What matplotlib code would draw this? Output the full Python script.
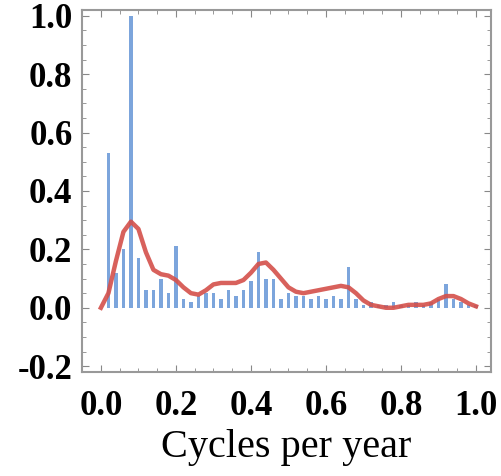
import numpy as np
import matplotlib.pyplot as plt
from matplotlib.ticker import MultipleLocator

# bar spectrum (cycles per year, power)
bar_freq = [k / 50 for k in range(1, 51)]
bar_power = [0.53, 0.12, 0.20, 1.00, 0.17, 0.06, 0.06, 0.10, 0.05, 0.21,
             0.03, 0.02, 0.04, 0.05, 0.05, 0.03, 0.06, 0.04, 0.06, 0.09,
             0.19, 0.10, 0.10, 0.03, 0.05, 0.04, 0.04, 0.03, 0.04, 0.03,
             0.04, 0.03, 0.14, 0.03, 0.01, 0.02, 0.01, 0.01, 0.02, 0.01,
             0.01, 0.02, 0.01, 0.02, 0.03, 0.08, 0.03, 0.02, 0.01, 0.01]

# smoothed spectrum (red curve)
curve_freq = [k / 50 for k in range(0, 51)]
curve_power = [0.00, 0.05, 0.16, 0.26, 0.295, 0.27, 0.19, 0.13, 0.115, 0.11,
               0.095, 0.07, 0.05, 0.045, 0.06, 0.08, 0.085, 0.085, 0.085, 0.095,
               0.12, 0.15, 0.155, 0.13, 0.10, 0.07, 0.055, 0.05, 0.055, 0.06,
               0.065, 0.07, 0.075, 0.07, 0.05, 0.025, 0.01, 0.005, 0.0, 0.0,
               0.005, 0.01, 0.01, 0.01, 0.015, 0.03, 0.04, 0.04, 0.03, 0.015,
               0.005]

plt.rcParams['font.family'] = ['Liberation Serif', 'DejaVu Serif']

fig = plt.figure(figsize=(5.01, 4.76), dpi=100)
ax = fig.add_axes([0.164, 0.2185, 0.816, 0.7605])

ax.bar(bar_freq, bar_power, width=0.009, color='#5b8fd4', alpha=0.8)
ax.plot(curve_freq, curve_power, color='#d4504a', lw=3.2, alpha=0.9)

ax.set_xlim(-0.05, 1.04)
ax.set_ylim(-0.22, 1.02)
ax.xaxis.set_minor_locator(MultipleLocator(0.05))
ax.yaxis.set_minor_locator(MultipleLocator(0.05))
ax.set_xticks([0, 0.2, 0.4, 0.6, 0.8, 1.0])
ax.set_xticklabels(['0.0', '0.2', '0.4', '0.6', '0.8', '1.0'])
ax.set_yticks([-0.2, 0, 0.2, 0.4, 0.6, 0.8, 1.0])
ax.set_yticklabels(['-0.2', '0.0', '0.2', '0.4', '0.6', '0.8', '1.0'])
ax.tick_params(which='both', direction='in', top=True, right=True, color='#888888')
ax.tick_params(which='major', length=5, labelsize=25)
ax.tick_params(axis='x', pad=13)
ax.tick_params(axis='y', pad=7)
ax.tick_params(which='minor', length=3)
for lab in ax.get_xticklabels() + ax.get_yticklabels():
    lab.set_fontweight('bold')
for s in ax.spines.values():
    s.set_color('#999999')
    s.set_linewidth(1.5)

ax.set_xlabel('Cycles per year', fontsize=29, labelpad=4)

fig.savefig('out.png', dpi=100)
